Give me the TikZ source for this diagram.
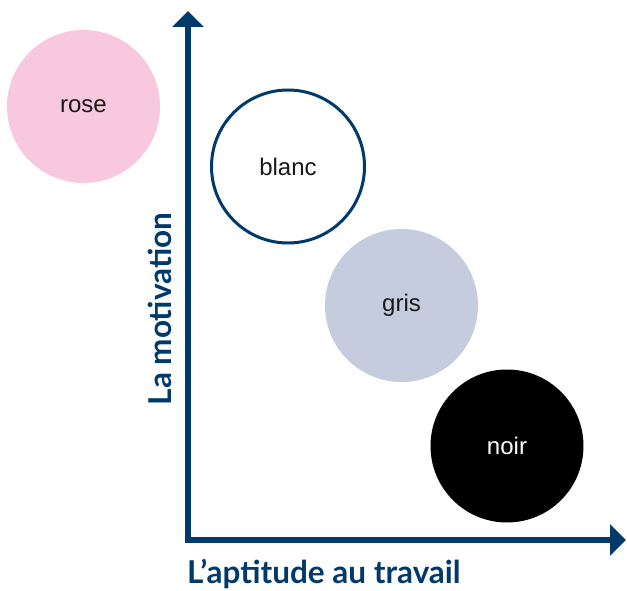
\documentclass[tikz,border=0pt]{standalone}
\usepackage{fontspec}
\setmainfont{Liberation Sans}
\newfontfamily\axisfont{Lato}
\usetikzlibrary{arrows.meta}
\definecolor{navy}{RGB}{0,58,107}
\definecolor{rosefill}{RGB}{247,200,222}
\definecolor{grisfill}{RGB}{197,204,221}
\tikzset{
  disc/.style={circle,minimum size=153pt,inner sep=0pt,font=\fontsize{24}{28}\selectfont,text=black!90},
  axis/.style={draw=navy,line width=5.5pt,-{Triangle[width=31pt,length=16pt]}},
  axislabel/.style={text=navy,font=\axisfont\bfseries\fontsize{31.5}{36}\selectfont,inner sep=0pt}
}
\begin{document}
\begin{tikzpicture}[x=1pt,y=-1pt]
\useasboundingbox (0,0) rectangle (627,591);
\node[disc,fill=rosefill] (rose) at (83.5,106.5) {rose};
\node[disc,draw=navy,line width=3pt,fill=white] (blanc) at (288,166.5) {blanc};
\node[disc,fill=grisfill] (gris) at (401.5,305.5) {gris};
\node[disc,fill=black,text=white] (noir) at (507,446) {noir};
\coordinate (origin) at (188,540);
\coordinate (ytip) at (188,11);
\coordinate (xtip) at (626,540);
\draw[axis] ([yshift=-2.75pt]origin) -- (ytip);
\draw[axis] ([xshift=-2.75pt]origin) -- (xtip);
\node[axislabel,rotate=90] (ylab) at (160,309) {La motivation};
\node[axislabel,anchor=base west] (xlab) at (187,583.5) {L’aptitude au travail};
\end{tikzpicture}
\end{document}
